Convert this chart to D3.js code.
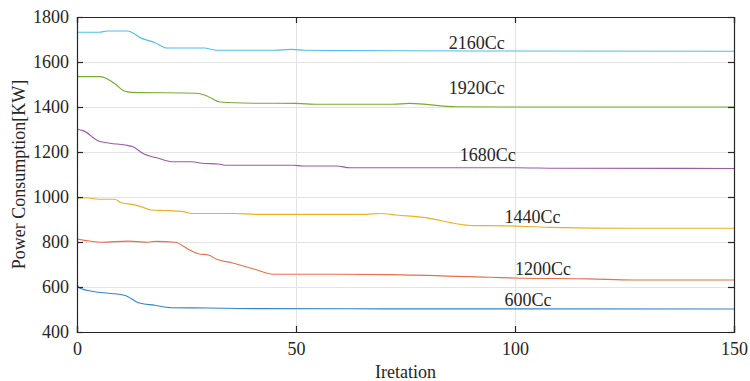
<!DOCTYPE html>
<html>
<head>
<meta charset="utf-8">
<script src="https://cdn.jsdelivr.net/npm/d3@7"></script>
<style>
    body { margin: 0; background: #fff; }
    text { font-family: "Liberation Serif", "Times New Roman", serif; fill: #262626; }
</style>
</head>
<body>
<div id="chart"></div>
<script>
// iteration / power samples
var iter2160 = [0, 5, 7, 11.5, 14.8, 17.8, 20.5, 29, 32, 45, 49, 52, 60, 90, 150];
var power2160 = [1732, 1732, 1738, 1738, 1705, 1686, 1662, 1662, 1652, 1652, 1656, 1652, 1651, 1649, 1648];

var iter1920 = [0, 5.3, 9, 10.6, 12.5, 27.3, 30, 32.6, 40, 50, 55, 72, 76, 86.7, 100, 150];
var power1920 = [1535, 1535, 1498, 1472, 1465, 1461, 1446, 1422, 1417, 1416, 1412, 1412, 1416, 1401, 1400, 1400];

var iter1680 = [0, 1.4, 4.9, 7.5, 11, 12.9, 15.1, 18.6, 21.6, 26.2, 28.5, 32.3, 33.8, 49.4, 51.6, 59.3, 62.3, 100, 110, 150];
var power1680 = [1301, 1295, 1249, 1239, 1231, 1222, 1193, 1172, 1157, 1157, 1150, 1147, 1141, 1141, 1138, 1138, 1130, 1130, 1128, 1127];

var iter1440 = [0, 2, 5, 8.7, 9.8, 13.2, 15.1, 17, 20, 24.3, 26.2, 36, 40.6, 66, 69.2, 73, 80.6, 86, 90.5, 94.3, 108, 127, 150];
var power1440 = [995, 997, 990, 990, 977, 965, 954, 942, 940, 935, 927, 927, 923, 923, 927, 920, 905, 883, 873, 873, 865, 861, 861];

var iter1200 = [0, 5.6, 11.7, 16.2, 18, 22.4, 25.4, 27.7, 30, 31.9, 35.3, 37.2, 40.6, 44.8, 60, 71.5, 94.3, 101.8, 117, 127, 150];
var power1200 = [813, 799, 804, 799, 803, 799, 768, 748, 742, 723, 708, 698, 679, 657, 657, 655, 643, 639, 636, 631, 631];

var iter600 = [0, 0.7, 4.1, 7.2, 11, 12.5, 14, 17.8, 21.6, 30, 40.6, 70, 150];
var power600 = [609, 594, 579, 572, 562, 547, 530, 519, 508, 507, 504, 503, 502];

var seriesNames = ["2160Cc", "1920Cc", "1680Cc", "1440Cc", "1200Cc", "600Cc"];
var seriesIters = [iter2160, iter1920, iter1680, iter1440, iter1200, iter600];
var seriesPower = [power2160, power1920, power1680, power1440, power1200, power600];
var seriesColors = ["#4dbeee", "#77ac30", "#9b59ab", "#edb120", "#e8704a", "#2f86c8"];

// label anchor (iteration, power) for each series name
var labelIter = [84.9, 84.9, 87.4, 97.6, 100, 97.6];
var labelPower = [1656, 1458, 1160, 883, 653, 516];

var xTicks = [0, 50, 100, 150];
var yTicks = [400, 600, 800, 1000, 1200, 1400, 1600, 1800];

var width = 750,
    height = 381;

var margin = {
    top: 17,
    right: 16,
    bottom: 49,
    left: 77
};

var plotWidth = width - margin.left - margin.right,
    plotHeight = height - margin.top - margin.bottom;

var svg = d3.select('#chart').append('svg')
    .attr('width', width)
    .attr('height', height);

var g = svg.append('g')
    .attr('transform', 'translate(' + margin.left + ',' + margin.top + ')');

var x = d3.scaleLinear().domain([0, 150]).range([0, plotWidth]);
var y = d3.scaleLinear().domain([400, 1800]).range([plotHeight, 0]);

// grid
g.append('g').selectAll('line.hgrid')
    .data(yTicks.slice(1, -1))
    .enter().append('line')
    .attr('x1', 0).attr('x2', plotWidth)
    .attr('y1', function (d) { return y(d) + 0.5; })
    .attr('y2', function (d) { return y(d) + 0.5; })
    .style('stroke', '#e3e3e3')
    .style('stroke-width', 1);

g.append('g').selectAll('line.vgrid')
    .data(xTicks.slice(1, -1))
    .enter().append('line')
    .attr('y1', 0).attr('y2', plotHeight)
    .attr('x1', function (d) { return Math.round(x(d)) + 0.5; })
    .attr('x2', function (d) { return Math.round(x(d)) + 0.5; })
    .style('stroke', '#e3e3e3')
    .style('stroke-width', 1);

// series lines
var line = d3.line()
    .curve(d3.curveMonotoneX)
    .x(function (d) { return x(d[0]); })
    .y(function (d) { return y(d[1]); });

seriesNames.forEach(function (name, index) {
    var pts = seriesIters[index].map(function (it, i) {
        return [it, seriesPower[index][i]];
    });
    g.append('path')
        .datum(pts)
        .attr('d', line)
        .style('fill', 'none')
        .style('stroke', seriesColors[index])
        .style('stroke-width', 1.1);

    g.append('text')
        .attr('x', x(labelIter[index]))
        .attr('y', y(labelPower[index]))
        .style('font-size', '18px')
        .text(name);
});

// axes (box with inward ticks)
var tickLen = 6;

g.append('g')
    .attr('transform', 'translate(0,' + plotHeight + ')')
    .call(d3.axisBottom(x).tickValues(xTicks).tickSize(-tickLen).tickPadding(10).tickFormat(d3.format('d')));

g.append('g')
    .call(d3.axisTop(x).tickValues(xTicks).tickSize(-tickLen).tickFormat(''));

g.append('g')
    .call(d3.axisLeft(y).tickValues(yTicks).tickSize(-tickLen).tickPadding(8).tickFormat(d3.format('d')));

g.append('g')
    .attr('transform', 'translate(' + plotWidth + ',0)')
    .call(d3.axisRight(y).tickValues(yTicks).tickSize(-tickLen).tickFormat(''));

g.selectAll('.domain').style('stroke', '#262626').style('stroke-width', 1.2);
g.selectAll('.tick line').style('stroke', '#262626').style('stroke-width', 1.2);
g.selectAll('.tick text')
    .style('font-family', '"Liberation Serif", "Times New Roman", serif')
    .style('font-size', '18px')
    .style('fill', '#262626');

// axis titles
svg.append('text')
    .attr('x', margin.left + plotWidth / 2)
    .attr('y', 378)
    .attr('text-anchor', 'middle')
    .style('font-size', '18px')
    .text('Iretation');

svg.append('text')
    .attr('transform', 'translate(25,' + (margin.top + plotHeight / 2) + ') rotate(-90)')
    .attr('text-anchor', 'middle')
    .style('font-size', '18px')
    .text('Power Consumption[KW]');
</script>
</body>
</html>
